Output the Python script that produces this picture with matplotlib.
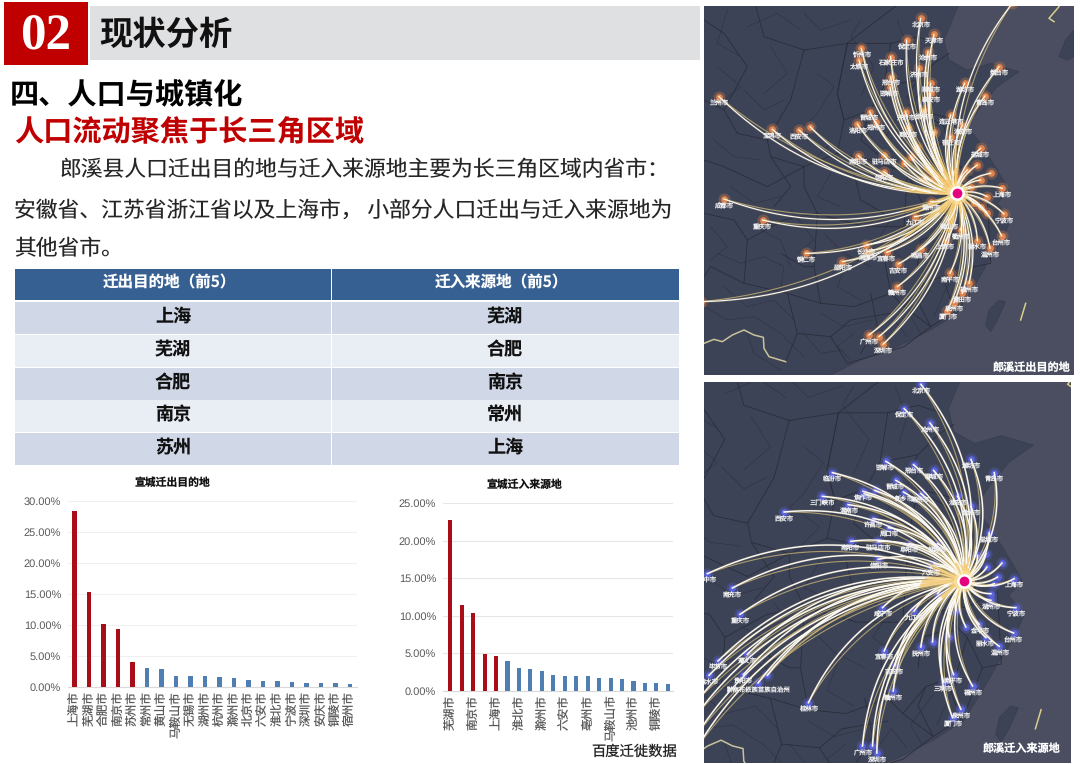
import numpy as np
import matplotlib
matplotlib.use('Agg')
import matplotlib.pyplot as plt
from matplotlib.patches import Rectangle, Polygon

plt.rcParams['font.family'] = ['Noto Sans CJK SC', 'DejaVu Sans']
plt.rcParams['text.hinting'] = 'no_hinting'
plt.rcParams['text.hinting_factor'] = 1

# bar charts
out_cats = ['上海市', '芜湖市', '合肥市', '南京市', '苏州市', '常州市', '黄山市', '马鞍山市', '无锡市', '湖州市',
            '杭州市', '滁州市', '北京市', '六安市', '淮北市', '宁波市', '深圳市', '安庆市', '铜陵市', '宿州市']
out_vals = [28.4, 15.4, 10.2, 9.3, 4.05, 3.1, 3.0, 1.85, 1.85, 1.8,
            1.7, 1.55, 1.25, 1.05, 0.95, 0.85, 0.7, 0.7, 0.65, 0.55]
in_cats = ['芜湖市', '合肥市', '南京市', '常州市', '上海市', '苏州市', '淮北市', '蚌埠市', '滁州市', '无锡市',
           '六安市', '宿州市', '亳州市', '杭州市', '马鞍山市', '安庆市', '池州市', '湖州市', '铜陵市', '淮南市']
in_vals = [22.8, 11.4, 10.4, 4.9, 4.6, 4.0, 3.0, 2.9, 2.6, 2.1,
           2.0, 2.0, 1.9, 1.7, 1.7, 1.5, 1.25, 1.05, 1.0, 0.95]

# table
table_head = ['迁出目的地（前5）', '迁入来源地（前5）']
table_left = ['上海', '芜湖', '合肥', '南京', '苏州']
table_right = ['芜湖', '合肥', '南京', '常州', '上海']

# map cities, in units of 1/3 screen pixel
out_hub = (758, 580)
out_cities = [('北京市', 650, 55), ('天津市', 690, 103), ('保定市', 608, 120), ('沧州市', 672, 155), ('忻州市', 472, 145),
              ('太原市', 465, 180), ('石家庄市', 560, 170), ('邢台市', 560, 230), ('邯郸市', 558, 262), ('济南市', 645, 205),
              ('聊城市', 680, 250), ('泰安市', 680, 280), ('潍坊市', 782, 250), ('烟台市', 885, 200), ('青岛市', 843, 288),
              ('兰州市', 45, 290), ('宝鸡市', 205, 388), ('西安市', 285, 390), ('', 318, 380), ('晋城市', 497, 335),
              ('洛阳市', 460, 372), ('郑州市', 515, 365), ('开封市', 605, 335), ('商丘市', 612, 385), ('徐州市', 660, 330),
              ('南阳市', 463, 467), ('驻马店市', 540, 465), ('信阳市', 540, 515), ('连云港市', 740, 345), ('盐城市', 830, 445),
              ('淮安市', 775, 375), ('宿迁市', 740, 410), ('上海市', 895, 565), ('宁波市', 900, 642), ('台州市', 893, 708),
              ('温州市', 858, 745), ('成都市', 60, 597), ('重庆市', 176, 660), ('铜仁市', 305, 760), ('邵阳市', 415, 785),
              ('长沙市', 487, 735), ('湘潭市', 490, 755), ('宜春市', 548, 757), ('南昌市', 650, 748), ('吉安市', 583, 792),
              ('赣州市', 580, 860), ('九江市', 632, 650), ('滁州市', 680, 605), ('广州市', 495, 1005), ('', 525, 1010),
              ('深圳市', 537, 1033), ('厦门市', 730, 932), ('泉州市', 750, 908), ('莆田市', 775, 880), ('福州市', 795, 850),
              ('南平市', 738, 820), ('丽水市', 820, 722), ('衢州市', 770, 690), ('黄山市', 735, 660), ('上饶市', 725, 722),
              ('', 790, 510), ('', 820, 495), ('', 860, 520), ('', 800, 560), ('', 830, 540), ('', 850, 590), ('', 830, 620),
              ('', 810, 610), ('', 850, 640), ('', 750, 515), ('', 770, 530), ('', 660, 535), ('', 690, 530), ('', 620, 470),
              ('', 690, 395), ('', 640, 440), ('', 600, 490), ('市', -10, 905), ('', 925, 10)]

in_hub = (779, 601)
in_cities = [('北京市', 650, 12), ('保定市', 600, 85), ('沧州市', 677, 128), ('潍坊市', 800, 237), ('青岛市', 870, 277),
             ('邯郸市', 545, 243), ('邢台市', 628, 253), ('聊城市', 688, 270), ('临汾市', 385, 277), ('晋城市', 575, 300),
             ('焦作市', 477, 333), ('', 512, 330), ('新乡市', 598, 335), ('', 480, 340), ('三门峡市', 355, 348),
             ('渭南市', 432, 373), ('西安市', 240, 395), ('许昌市', 507, 415), ('周口市', 553, 442), ('南阳市', 440, 483),
             ('驻马店市', 522, 483), ('阜阳市', 615, 490), ('信阳市', 522, 537), ('六安市', 680, 557), ('巴中市', 10, 580),
             ('南充市', 85, 623), ('重庆市', 108, 702), ('毕节市', 42, 842), ('遵义市', 130, 822), ('贵阳市', 118, 883),
             ('', 190, 885), ('黔南布依族苗族自治州', 162, 908), ('盘水市', 15, 885), ('桂林市', 313, 967), ('咸宁市', 535, 682),
             ('九江市', 630, 692), ('抚州市', 650, 800), ('宜春市', 540, 812), ('吉安市', 572, 855), ('赣州市', 567, 932),
             ('南平市', 748, 883), ('三明市', 718, 905), ('福州市', 805, 917), ('泉州市', 770, 987), ('厦门市', 745, 1012),
             ('广州市', 475, 1097), ('', 505, 1097), ('深圳市', 518, 1118), ('上海市', 930, 595), ('宁波市', 935, 682),
             ('台州市', 928, 758), ('丽水市', 845, 772), ('温州市', 885, 798), ('金华市', 825, 732), ('湖州市', 860, 660),
             ('盐城市', 855, 458), ('徐州市', 800, 378), ('淮安市', 760, 348), ('亳州市', 650, 340), ('蚌埠市', 700, 490),
             ('', 690, 550), ('', 893, 548), ('', 848, 560), ('', 880, 590), ('', 870, 610), ('', 860, 640),
             ('', 820, 525), ('', 845, 520), ('', 700, 640), ('', 755, 690), ('', 785, 740), ('', 735, 770), ('', 685, 785),
             ('', -20, 960), ('', -20, 1000), ('', -20, 1060), ('', -20, 1100)]

# coast and borders, same geography for both maps
coast = [(770, 0), (745, 60), (720, 120), (735, 180), (790, 210), (860, 190), (945, 215), (880, 260), (830, 320),
         (790, 380), (830, 430), (880, 510), (915, 570), (880, 610), (920, 660), (895, 720), (850, 790), (810, 860),
         (760, 940), (680, 990), (580, 1040), (470, 1080), (350, 1140)]
taiwan = [(885, 900), (905, 905), (880, 960), (860, 995), (845, 975), (855, 930)]
korea = [(1110, 90), (1085, 120), (1065, 170), (1090, 180), (1110, 170)]
borders = [
    [(735, 160), (690, 190), (640, 240), (610, 290), (640, 330), (700, 345), (760, 360)],
    [(640, 330), (620, 430), (610, 520), (660, 620), (700, 650), (770, 640), (810, 540), (740, 470), (720, 380), (640, 330)],
    [(430, 130), (560, 130), (540, 260), (500, 330), (420, 360), (400, 280), (430, 130)],
    [(300, 150), (430, 130), (400, 280), (420, 360), (400, 460), (300, 500), (200, 470), (190, 420), (260, 300), (300, 150)],
    [(400, 460), (500, 480), (610, 520), (600, 680), (480, 680), (340, 640), (300, 560), (300, 500)],
    [(600, 680), (700, 650), (770, 720), (740, 820), (660, 850), (600, 920), (560, 880), (540, 770), (600, 680)],
    [(770, 640), (850, 600), (860, 790), (810, 800), (770, 720)],
    [(810, 800), (760, 930), (680, 980), (640, 900), (660, 850)],
    [(600, 920), (680, 980), (600, 1040), (430, 1090), (380, 1010), (440, 960), (560, 940)],
    [(340, 640), (330, 800), (350, 910), (450, 920), (560, 880)],
    [(340, 640), (240, 660), (130, 720), (120, 850), (250, 880), (350, 910)],
    [(300, 500), (190, 560), (60, 500), (0, 480)],
    [(190, 420), (100, 400), (60, 330), (0, 300)],
    [(300, 150), (180, 110), (150, 0)],
    [(430, 130), (520, 60), (600, 0)],
    [(120, 850), (20, 800), (0, 830)],
    [(250, 880), (280, 1000), (380, 1010)],
    [(280, 1000), (245, 1085)],
    [(60, 330), (130, 200), (60, 100), (0, 60)],
    [(0, 640), (90, 660), (130, 720)],
    [(560, 130), (640, 110), (700, 130)],
    [(230, 760), (300, 800), (330, 800)],
    [(450, 520), (470, 600), (540, 640)],
    [(200, 470), (260, 560), (210, 620)],
    [(500, 330), (470, 420), (530, 470)],
    [(640, 240), (540, 260)],
    [(730, 520), (650, 460), (620, 430)],
    [(780, 380), (700, 440)],
    [(720, 700), (650, 720), (640, 800)],
    [(500, 880), (520, 980), (470, 1060)],
    [(720, 840), (740, 900)],
]
# county lines and rivers, drawn thinner
fine_lines = [
    [(40, 760), (110, 790), (180, 770), (240, 800), (230, 870)], [(60, 860), (130, 920), (210, 900), (270, 960)],
    [(0, 920), (70, 960), (150, 950), (230, 1000), (300, 1070)], [(130, 1000), (150, 1060), (230, 1110)],
    [(300, 1000), (350, 1060), (420, 1050)], [(350, 940), (420, 980), (500, 960)], [(430, 780), (400, 860), (470, 900)],
    [(360, 700), (420, 760), (500, 800)], [(170, 690), (230, 720), (260, 800)], [(80, 560), (150, 610), (230, 590)],
    [(30, 420), (90, 470), (170, 480)], [(120, 270), (180, 330), (240, 300)], [(200, 140), (250, 220), (180, 280)],
    [(340, 220), (390, 260), (340, 340), (280, 400)], [(470, 60), (440, 110), (510, 200), (470, 290)],
    [(40, 200), (110, 260), (60, 300)], [(300, 40), (350, 90), (440, 60)], [(580, 60), (610, 140), (590, 210)],
    [(650, 280), (580, 350), (540, 420)], [(380, 520), (340, 590), (410, 620)], [(560, 660), (520, 720), (590, 770)],
    [(680, 870), (620, 950), (650, 1000)], [(760, 800), (720, 880), (690, 950)], [(130, 80), (220, 40), (290, 90)],
    [(70, 30), (40, 130), (110, 170)], [(20, 680), (70, 740), (20, 780)], [(540, 1000), (570, 960), (610, 1010)],
    [(450, 1000), (400, 1040), (440, 1080)], [(330, 480), (380, 430), (340, 400)], [(260, 630), (330, 720), (280, 760)],
]
vietnam = [(0, 1030), (30, 1018), (55, 1025), (85, 1005), (120, 990), (150, 1005), (178, 1012), (180, 1045), (195, 1070), (245, 1085)]
pale_marks = [[(965, 910), (950, 960)], [(1065, 20), (1035, 55), (1050, 65)]]


def curve(p0, p1, bend):
    t = np.linspace(0, 1, 40)
    p0 = np.array(p0, float)
    p1 = np.array(p1, float)
    d = p1 - p0
    ctrl = (p0 + p1) / 2 + bend * np.array([d[1], -d[0]])
    return ((1 - t) ** 2)[:, None] * p0 + (2 * t * (1 - t))[:, None] * ctrl + (t ** 2)[:, None] * p1


def draw_map(rect, xlim, ylim, hub, cities, bend, dot, to_map, title, title_xy, white_lw, amber_n):
    ax = fig.add_axes(rect)
    ax.set_xlim(*xlim)
    ax.set_ylim(*ylim)
    ax.axis('off')
    land_c = '#3d4356'
    ax.add_patch(Rectangle((xlim[0], ylim[1]), xlim[1] - xlim[0], ylim[0] - ylim[1], fc='#4a4e60', ec='none', zorder=0))
    land = [(-200, -100)] + [to_map(p) for p in coast] + [(-200, 1300)]
    ax.add_patch(Polygon(land, fc=land_c, ec='#393d4a', lw=0.5, zorder=1))
    ax.add_patch(Polygon([to_map(p) for p in taiwan], fc=land_c, ec='#393d4a', lw=0.5, zorder=1))
    ax.add_patch(Polygon([to_map(p) for p in korea], fc=land_c, ec='#393d4a', lw=0.5, zorder=1))
    for b in fine_lines:
        pts = np.array([to_map(p) for p in b])
        ax.plot(pts[:, 0], pts[:, 1], color='#2f3444', lw=0.45, zorder=2)
    for b in borders:
        pts = np.array([to_map(p) for p in b])
        ax.plot(pts[:, 0], pts[:, 1], color='#2a2e3b', lw=0.6, zorder=2)
    pts = np.array([to_map(p) for p in vietnam])
    ax.plot(pts[:, 0], pts[:, 1], color='#c9c39a', lw=1.1, zorder=2)
    for m in pale_marks:
        pts = np.array([to_map(p) for p in m])
        ax.plot(pts[:, 0], pts[:, 1], color='#d8cf8e', lw=1.1, zorder=2)

    xs = [c[1] for c in cities]
    ys = [c[2] for c in cities]
    ax.scatter(xs, ys, s=75, color=dot, alpha=0.3, lw=0, zorder=3)
    ax.scatter(xs, ys, s=24, color=dot, lw=0, zorder=3)
    for name, x, y in cities:
        c1 = curve(hub, (x, y), bend)
        c2 = curve(hub, (x, y), bend * 0.8)
        ax.plot(c2[:, 0], c2[:, 1], color='#d9c27a', lw=0.8, alpha=0.7, zorder=4)
        ax.plot(c1[:, 0], c1[:, 1], color='#f4c66a', lw=1.8, alpha=0.15, zorder=4)
        ax.plot(c1[:, 0], c1[:, 1], color='#fbfaf4', lw=white_lw, zorder=5)
        ax.plot(c1[:amber_n, 0], c1[:amber_n, 1], color='#f0b030', lw=1.5, alpha=0.5, zorder=5)
    for name, x, y in cities:
        if name:
            ax.text(x, y + 21, name, color='#f0f0f0', fontsize=4.6, ha='center', va='center', zorder=6, clip_on=True)
    ax.scatter([hub[0]], [hub[1]], s=230, color='#ffe9a8', alpha=0.5, lw=0, zorder=7)
    ax.scatter([hub[0]], [hub[1]], s=78, color='#e5007f', edgecolors='white', lw=1.8, zorder=8)
    ax.text(title_xy[0], title_xy[1], title, color='white', fontsize=8, fontweight='bold', ha='right', va='center', zorder=9)
    return ax


def draw_bars(rect, cats, vals, step, ymax, major, title, title_x, title_y, tick_every, grid, xlim):
    ax = fig.add_axes(rect)
    x = np.arange(len(vals))
    colors = ['#a90d17' if i < 5 else '#4f7fb2' for i in x]
    ax.bar(x, vals, width=step, color=colors, zorder=3)
    ax.set_xlim(*xlim)
    ax.set_ylim(0, ymax)
    ax.set_yticks(np.arange(0, ymax + 0.01, major))
    ax.set_yticklabels(['%.2f%%' % v for v in np.arange(0, ymax + 0.01, major)],
                       fontsize=8.2, color='#595959', family=['Liberation Sans', 'Noto Sans CJK SC'])
    ax.set_xticks(x[::tick_every])
    ax.set_xticklabels(cats[::tick_every], rotation=90, fontsize=8.4, color='#595959', linespacing=1)
    ax.tick_params(length=0, pad=5)
    ax.tick_params(axis='x', pad=3)
    ax.grid(axis='y', color=grid, lw=0.8, zorder=0)
    for s in ['top', 'right', 'left']:
        ax.spines[s].set_visible(False)
    ax.spines['bottom'].set_color('#d9d9d9')
    ax.spines['bottom'].set_linewidth(0.8)
    bg.text(title_x, title_y, title, fontsize=7.8, fontweight='bold', color='#111111', ha='center', va='center')
    return ax


W, H = 1080, 764
fig = plt.figure(figsize=(W / 100, H / 100), dpi=100, facecolor='white')


def px_rect(x0, y0, x1, y1):
    return [x0 / W, 1 - y1 / H, (x1 - x0) / W, (y1 - y0) / H]


bg = fig.add_axes([0, 0, 1, 1])
bg.set_xlim(0, W)
bg.set_ylim(H, 0)
bg.axis('off')

# header
bg.add_patch(Rectangle((90, 6), 610, 54, fc='#dfe0e2', ec='none'))
bg.add_patch(Rectangle((4, 2), 84, 63, fc='#c00000', ec='none'))
bg.text(46, 37, '02', color='white', fontsize=37, fontweight='bold', family='Liberation Serif', ha='center', va='center')
bg.text(99, 35, '现状分析', color='#111111', fontsize=24, fontweight='bold', va='center')
bg.text(10, 96, '四、人口与城镇化', color='#000000', fontsize=21, fontweight='bold', va='center')
bg.text(14, 133, '人口流动聚焦于长三角区域', color='#c00000', fontsize=21, fontweight='bold', va='center')

# body text
bg.text(60, 170, '郎溪县人口迁出目的地与迁入来源地主要为长三角区域内省市：', color='#262626', fontsize=15.7, va='center')
bg.text(14, 210, '安徽省、江苏省浙江省以及上海市， 小部分人口迁出与迁入来源地为', color='#262626', fontsize=15.7, va='center')
bg.text(14, 249, '其他省市。', color='#262626', fontsize=15.7, va='center')

# table
bg.add_patch(Rectangle((15, 269), 316, 31, fc='#376092', ec='none'))
bg.add_patch(Rectangle((332, 269), 347, 31, fc='#376092', ec='none'))
bg.text(169, 283, table_head[0], color='white', fontsize=11.2, fontweight='bold', ha='center', va='center')
bg.text(501, 283, table_head[1], color='white', fontsize=11.2, fontweight='bold', ha='center', va='center')
row_tops = [302, 335, 368, 400, 433]
for i, top in enumerate(row_tops):
    fc = '#d0d8e8' if i % 2 == 0 else '#e9edf4'
    bg.add_patch(Rectangle((15, top), 316, 31.5, fc=fc, ec='none'))
    bg.add_patch(Rectangle((332, top), 347, 31.5, fc=fc, ec='none'))
    bg.text(173, top + 15, table_left[i], color='#111111', fontsize=13, fontweight='bold', ha='center', va='center')
    bg.text(505, top + 15, table_right[i], color='#111111', fontsize=13, fontweight='bold', ha='center', va='center')

# bar charts
draw_bars(px_rect(68, 500.7, 357, 687.3), out_cats, out_vals, 0.31, 30, 5, '宣城迁出目的地', 172, 483, 1, '#f0f0f0', (-0.45, 19.5))
draw_bars(px_rect(443, 503.3, 673, 690.7), in_cats, in_vals, 0.36, 25, 5, '宣城迁入来源地', 524, 485, 2, '#e6e6e6', (-0.63, 19.45))
bg.text(677, 752, '百度迁徙数据', color='#222222', fontsize=10.3, ha='right', va='center')

# maps
draw_map(px_rect(704, 6, 1074, 375), (0, 1110), (1125, 18), out_hub, out_cities, 0.2, '#e0834c',
         lambda p: p, '郎溪迁出目的地', (1100, 1102), 0.85, 10)
draw_map(px_rect(704, 382, 1071, 763), (0, 1100), (1148, 5), in_hub, in_cities, -0.25, '#5a63dc',
         lambda p: (1.135 * p[0] - 85, 1.142 * p[1] - 51), '郎溪迁入来源地', (1068, 1105), 1.05, 6)

fig.savefig('out.png', dpi=100)
